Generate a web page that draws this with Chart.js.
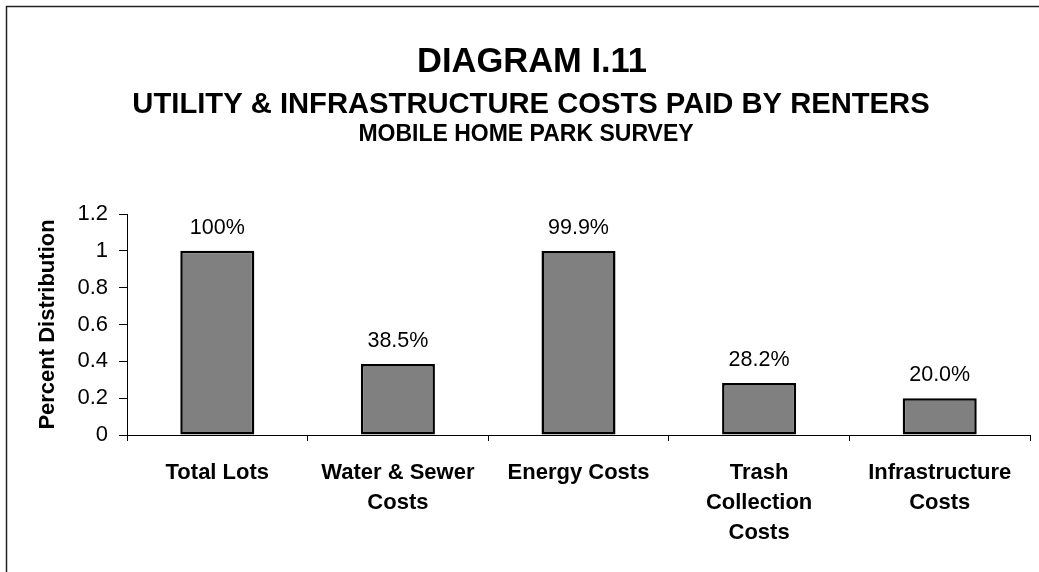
<!DOCTYPE html>
<html>
<head>
<meta charset="utf-8">
<script src="https://cdn.jsdelivr.net/npm/chart.js@4.4.1/dist/chart.umd.min.js"></script>
<style>
    html, body { margin: 0; padding: 0; background: #fff; }
    #wrap { position: relative; width: 1039px; height: 572px; }
</style>
</head>
<body>
<div id="wrap"><canvas id="grafica"></canvas></div>
<script>
// Datos
const categorias = [
    ['Total Lots'],
    ['Water & Sewer', 'Costs'],
    ['Energy Costs'],
    ['Trash', 'Collection', 'Costs'],
    ['Infrastructure', 'Costs']
];
const valores = [1.0, 0.385, 0.999, 0.282, 0.2];
const etiquetasValor = ['100%', '38.5%', '99.9%', '28.2%', '20.0%'];
const etiquetasY = ['0', '0.2', '0.4', '0.6', '0.8', '1', '1.2'];
const titulos = ['DIAGRAM I.11', 'UTILITY & INFRASTRUCTURE COSTS PAID BY RENTERS', 'MOBILE HOME PARK SURVEY'];

const fuente = '"Liberation Sans", Arial, sans-serif';

// Marco, títulos y etiquetas de las barras
const dibujosExtra = {
    id: 'dibujosExtra',
    beforeDraw(chart) {
        const ctx = chart.ctx;
        ctx.save();
        ctx.strokeStyle = '#222';
        ctx.lineWidth = 1.5;
        ctx.beginPath();
        ctx.moveTo(6.5, chart.height);
        ctx.lineTo(6.5, 6.5);
        ctx.lineTo(chart.width, 6.5);
        ctx.stroke();
        ctx.restore();
    },
    afterDraw(chart) {
        const ctx = chart.ctx;
        ctx.save();
        ctx.fillStyle = '#000';
        ctx.textAlign = 'center';
        ctx.textBaseline = 'alphabetic';
        ctx.font = 'bold 34.5px ' + fuente;
        ctx.fillText(titulos[0], 532, 72);
        ctx.font = 'bold 29.2px ' + fuente;
        ctx.fillText(titulos[1], 531, 113);
        ctx.font = 'bold 23px ' + fuente;
        ctx.fillText(titulos[2], 526, 141);

        ctx.font = '21.5px ' + fuente;
        chart.getDatasetMeta(0).data.forEach(function (barra, i) {
            ctx.fillText(etiquetasValor[i], barra.x, barra.y - 17);
        });
        ctx.restore();
    }
};

const ctx = document.getElementById('grafica').getContext('2d');
new Chart(ctx, {
    type: 'bar',
    data: {
        labels: categorias,
        datasets: [{
            data: valores,
            backgroundColor: '#808080',
            borderColor: '#000',
            borderWidth: 2.5,
            borderSkipped: false,
            categoryPercentage: 1,
            barPercentage: 0.41
        }]
    },
    options: {
        responsive: true,
        maintainAspectRatio: false,
        animation: false,
        layout: { padding: { left: 30, right: 9, top: 214, bottom: 0 } },
        plugins: {
            legend: { display: false },
            tooltip: { enabled: false }
        },
        scales: {
            x: {
                afterFit: function (scale) { scale.height = 137; },
                border: { display: true, color: '#000', width: 1 },
                grid: {
                    drawOnChartArea: false,
                    drawTicks: true,
                    tickLength: 6,
                    color: '#000',
                    offset: true
                },
                ticks: {
                    autoSkip: false,
                    maxRotation: 0,
                    padding: 17,
                    color: '#000',
                    font: { family: fuente, size: 22, weight: 'bold', lineHeight: 1.364 }
                }
            },
            y: {
                min: 0,
                max: 1.2,
                afterFit: function (scale) { scale.width = 97; },
                border: { display: true, color: '#000', width: 1 },
                grid: {
                    drawOnChartArea: false,
                    tickLength: 8,
                    color: '#000'
                },
                ticks: {
                    stepSize: 0.2,
                    padding: 11,
                    color: '#000',
                    font: { family: fuente, size: 22 },
                    callback: function (v, i) { return etiquetasY[i]; }
                },
                title: {
                    display: true,
                    text: 'Percent Distribution',
                    color: '#000',
                    padding: { top: 5, bottom: 0 },
                    font: { family: fuente, size: 22, weight: 'bold' }
                }
            }
        }
    },
    plugins: [dibujosExtra]
});
</script>
</body>
</html>
